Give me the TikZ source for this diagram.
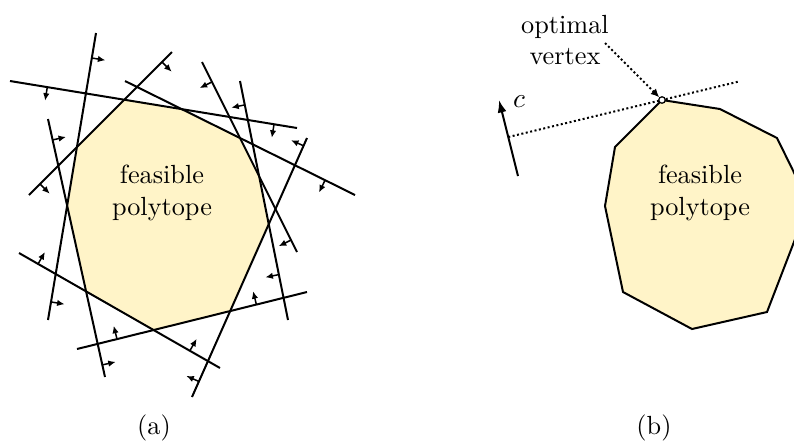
\documentclass[tikz,border=0pt]{standalone}
\usetikzlibrary{calc,arrows.meta}
\definecolor{polyfill}{RGB}{255,244,200}
\newcommand\nrmarr[3]{%
  \coordinate (tmp) at ($(#1a)!#2!(#1b)$);
  \draw[nrm] (tmp) -- ($(tmp)!5.5pt!#3:(#1b)$);}
\begin{document}
\begin{tikzpicture}[x=0.4pt,y=-0.4pt,
  hline/.style={line width=0.8pt},
  nrm/.style={line width=0.6pt,-{Latex[length=3pt,width=2.6pt]}},
  dotline/.style={line width=0.8pt,dash pattern=on 0.8pt off 1pt},
  lbl/.style={font=\fontsize{10.5}{12.5}\selectfont,align=center,inner sep=0pt}]
\useasboundingbox (0,0) rectangle (794,443);
\clip (0,0) rectangle (794,443);
% ---------- (a) ----------
\coordinate (l1a) at (10,81);   \coordinate (l1b) at (297,128);
\coordinate (l2a) at (96,33);   \coordinate (l2b) at (48,320);
\coordinate (l3a) at (48,119);  \coordinate (l3b) at (105,377);
\coordinate (l4a) at (29,195);  \coordinate (l4b) at (172,52);
\coordinate (l5a) at (125,81);  \coordinate (l5b) at (355,195);
\coordinate (l6a) at (202,62);  \coordinate (l6b) at (297,252);
\coordinate (l7a) at (240,81);  \coordinate (l7b) at (288,320);
\coordinate (l8a) at (307,138); \coordinate (l8b) at (192,397);
\coordinate (l9a) at (19,253);  \coordinate (l9b) at (220,368);
\coordinate (l10a) at (77,349); \coordinate (l10b) at (307,292);
\coordinate (p1) at (intersection of l4a--l4b and l1a--l1b);
\coordinate (p2) at (intersection of l1a--l1b and l5a--l5b);
\coordinate (p3) at (intersection of l5a--l5b and l6a--l6b);
\coordinate (p4) at (intersection of l6a--l6b and l7a--l7b);
\coordinate (p5) at (intersection of l7a--l7b and l8a--l8b);
\coordinate (p6) at (intersection of l8a--l8b and l10a--l10b);
\coordinate (p7) at (intersection of l10a--l10b and l9a--l9b);
\coordinate (p8) at (intersection of l9a--l9b and l3a--l3b);
\coordinate (p9) at (intersection of l3a--l3b and l2a--l2b);
\coordinate (p10) at (intersection of l2a--l2b and l4a--l4b);
\fill[polyfill] (p1) -- (p2) -- (p3) -- (p4) -- (p5) -- (p6) -- (p7) -- (p8) -- (p9) -- (p10) -- cycle;
\foreach \l in {l1,l2,l3,l4,l5,l6,l7,l8,l9,l10}{\draw[hline] (\l a) -- (\l b);}
\nrmarr{l1}{0.13}{-90}  \nrmarr{l1}{0.92}{-90}
\nrmarr{l2}{0.087}{90}  \nrmarr{l2}{0.937}{90}
\nrmarr{l3}{0.081}{90}  \nrmarr{l3}{0.953}{90}
\nrmarr{l4}{0.077}{-90} \nrmarr{l4}{0.93}{-90}
\nrmarr{l5}{0.87}{-90}
\nrmarr{l6}{0.105}{-90} \nrmarr{l6}{0.937}{-90}
\nrmarr{l7}{0.10}{-90}  \nrmarr{l7}{0.81}{-90}
\nrmarr{l8}{0.03}{-90}  \nrmarr{l8}{0.94}{-90}
\nrmarr{l9}{0.095}{90}  \nrmarr{l9}{0.85}{90}
\nrmarr{l10}{0.174}{90} \nrmarr{l10}{0.78}{90}
\node[lbl] (fa) at (162,193) {feasible\\polytope};
\node[lbl] (capa) at (154,428) {(a)};
% ---------- (b) ----------
\filldraw[polyfill,draw=black,hline] (662,100) -- (720,109) -- (777,138) -- (809,203) -- (767,312) -- (692,329) -- (623,292) -- (605,206) -- (615,147) -- cycle;
\node[lbl] (fb) at (700,193) {feasible\\polytope};
\coordinate (c0) at (518,176);
\coordinate (c1) at (499,100);
\coordinate (v) at (662,100);
\draw[hline,-{Latex[length=5pt,width=3.6pt]}] (c0) -- (c1);
\node[lbl] (clbl) at (519,102) {$c$};
\coordinate (cs) at ($(c0)!0.513!(c1)$);
\draw[dotline] (cs) -- ($(cs)!1.5!(v)$);
\node[circle,draw,fill=white,line width=0.5pt,inner sep=0pt,minimum size=2.6pt] (vtx) at (v) {};
\node[lbl] (opt) at (565,40) {optimal\\vertex};
\coordinate (ls) at (605,43);
\draw[dotline,-{Latex[length=3.4pt,width=3.2pt]}] (ls) -- (vtx);
\node[lbl] (capb) at (654,428) {(b)};
\end{tikzpicture}
\end{document}
